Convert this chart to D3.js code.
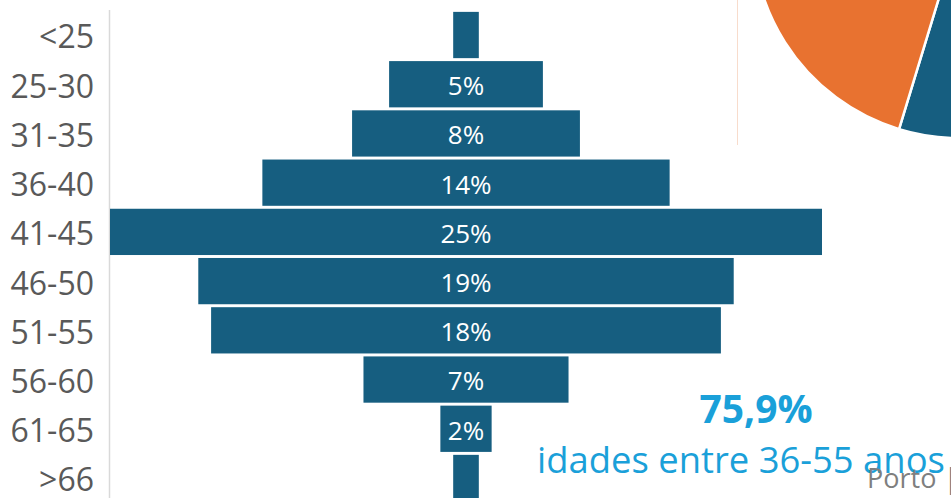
<!DOCTYPE html>
<html>
<head>
<meta charset="utf-8">
<script src="https://cdn.jsdelivr.net/npm/d3@7"></script>
<style>
  body { margin: 0; background: #fff; overflow: hidden; }
  svg { display: block; font-family: "Open Sans", "Noto Sans", sans-serif; }
</style>
</head>
<body>
<svg id="chart" width="951" height="498"></svg>
<script>
// age groups and share of people (%)
var ageGroups = ["<25", "25-30", "31-35", "36-40", "41-45", "46-50", "51-55", "56-60", "61-65", ">66"];
var shares = [0.9, 5.4, 8.0, 14.3, 25.0, 18.8, 17.9, 7.2, 1.8, 0.9];

// the pie that is cut off in the top right corner
var pieNames = ["azul", "laranja"];
var pieValues = [54.7, 45.3];
var pieColors = ["#165e80", "#e87230"];

var highlightValue = "75,9%";
var highlightText = "idades entre 36-55 anos";

var svg = d3.select("#chart");
var barColor = "#165e80";
var centerX = 466;

var yScale = d3.scaleBand()
  .domain(ageGroups)
  .range([10.4, 502.6])
  .paddingInner(0.06)
  .paddingOuter(0.03);

var xScale = d3.scaleLinear()
  .domain([0, 25])
  .range([0, 712]);

// pie fragment (drawn first so it sits behind)
var pie = d3.pie().sort(null)(pieValues);
var arc = d3.arc().innerRadius(0).outerRadius(206);
svg.append("g")
  .attr("transform", "translate(959,-68)")
  .selectAll("path")
  .data(pie)
  .enter().append("path")
    .attr("d", arc)
    .style("fill", function(d, i){ return pieColors[i]; })
    .style("stroke", "#fff")
    .style("stroke-width", 2.5);

// light frame line of the pie area
svg.append("line")
  .attr("x1", 737.5).attr("x2", 737.5)
  .attr("y1", 0).attr("y2", 145)
  .style("stroke", "#f8dccc")
  .style("stroke-width", 1);

// left axis line
svg.append("line")
  .attr("x1", 109.5).attr("x2", 109.5)
  .attr("y1", 10).attr("y2", 498)
  .style("stroke", "#d9d9d9")
  .style("stroke-width", 1.5);

// bars, centered like a pyramid
svg.append("g").selectAll("rect")
  .data(shares)
  .enter().append("rect")
    .attr("x", function(d){ return centerX - xScale(d) / 2; })
    .attr("y", function(d, i){ return yScale(ageGroups[i]); })
    .attr("width", function(d){ return xScale(d); })
    .attr("height", yScale.bandwidth())
    .style("fill", barColor);

// value labels inside the bars (too small ones are left out)
svg.append("g").selectAll("text")
  .data(shares)
  .enter().append("text")
    .filter(function(d){ return d >= 1.5; })
    .attr("x", centerX)
    .attr("y", function(d){ return yScale(ageGroups[shares.indexOf(d)]) + yScale.bandwidth() / 2; })
    .attr("dy", "0.42em")
    .attr("text-anchor", "middle")
    .style("fill", "#fff")
    .style("font-size", "26px")
    .text(function(d){ return Math.round(d) + "%"; });

// category axis
var yAxis = d3.axisLeft(yScale).tickSize(0).tickPadding(0);
var yGuide = svg.append("g").attr("transform", "translate(94,0)");
yAxis(yGuide);
yGuide.select(".domain").remove();
yGuide.selectAll("text")
  .attr("dy", "0.42em")
  .style("font-family", "'Open Sans', 'Noto Sans', sans-serif")
  .style("font-size", "32px")
  .style("fill", "#595959");

// highlight note
svg.append("text")
  .attr("x", 756)
  .attr("y", 423)
  .attr("text-anchor", "middle")
  .style("font-size", "39px")
  .style("font-weight", "bold")
  .style("fill", "#1aa0d9")
  .text(highlightValue);

svg.append("text")
  .attr("x", 741)
  .attr("y", 473)
  .attr("text-anchor", "middle")
  .style("font-size", "36.4px")
  .style("fill", "#1aa0d9")
  .text(highlightText);

svg.append("text")
  .attr("x", 867)
  .attr("y", 488)
  .style("font-size", "27px")
  .style("fill", "#7f7f7f")
  .text("Porto |");
</script>
</body>
</html>
